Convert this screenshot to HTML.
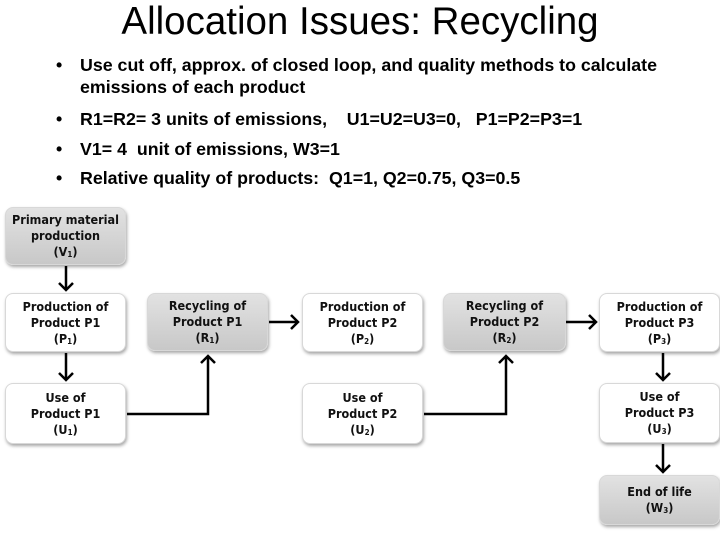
<!DOCTYPE html>
<html><head><style>
body{margin:0;width:720px;height:540px;background:#fff;position:relative;overflow:hidden;font-family:"Liberation Sans",Arial,sans-serif}
.t{position:absolute;left:0;width:720px;top:0px;text-align:center;font-size:38.5px;color:#000}
.b{position:absolute;left:56px;font-size:17.8px;font-weight:bold;color:#000;line-height:22px}
.b span{position:absolute;left:24px;white-space:nowrap}
.n{position:absolute;box-sizing:border-box;border-radius:8px;border:1px solid #d8d8d8;box-shadow:1px 2px 3px rgba(0,0,0,.35);display:flex;align-items:center;justify-content:center;text-align:center;font-family:"DejaVu Sans Condensed","Liberation Sans",sans-serif;font-size:12.5px;line-height:16px;color:#111;font-weight:bold}
.g{background:linear-gradient(#e2e2e2,#c8c8c8)}
.w{background:#fff}
sub{font-size:8px;vertical-align:-1px;line-height:0}
</style></head><body>
<div class="t">Allocation Issues: Recycling</div>
<div class="b" style="top:54px">•<span>Use cut off, approx. of closed loop, and quality methods to calculate<br>emissions of each product</span></div>
<div class="b" style="top:108px">•<span>R1=R2= 3 units of emissions,&nbsp;&nbsp;&nbsp;&nbsp;U1=U2=U3=0,&nbsp;&nbsp; P1=P2=P3=1</span></div>
<div class="b" style="top:138px">•<span>V1= 4&nbsp; unit of emissions, W3=1</span></div>
<div class="b" style="top:167px">•<span>Relative quality of products:&nbsp; Q1=1, Q2=0.75, Q3=0.5</span></div>

<div class="n g" style="left:5px;top:207px;width:121px;height:58px"><div>Primary material<br>production<br>(V<sub>1</sub>)</div></div>
<div class="n w" style="left:5px;top:293px;width:121px;height:59px"><div>Production of<br>Product P1<br>(P<sub>1</sub>)</div></div>
<div class="n g" style="left:147px;top:293px;width:121px;height:58px"><div>Recycling of<br>Product P1<br>(R<sub>1</sub>)</div></div>
<div class="n w" style="left:302px;top:293px;width:121px;height:59px"><div>Production of<br>Product P2<br>(P<sub>2</sub>)</div></div>
<div class="n g" style="left:443px;top:293px;width:123px;height:58px"><div>Recycling of<br>Product P2<br>(R<sub>2</sub>)</div></div>
<div class="n w" style="left:599px;top:293px;width:121px;height:59px"><div>Production of<br>Product P3<br>(P<sub>3</sub>)</div></div>
<div class="n w" style="left:5px;top:383px;width:121px;height:61px"><div>Use of<br>Product P1<br>(U<sub>1</sub>)</div></div>
<div class="n w" style="left:302px;top:383px;width:121px;height:61px"><div>Use of<br>Product P2<br>(U<sub>2</sub>)</div></div>
<div class="n w" style="left:599px;top:383px;width:121px;height:60px"><div>Use of<br>Product P3<br>(U<sub>3</sub>)</div></div>
<div class="n g" style="left:599px;top:475px;width:121px;height:50px"><div>End of life<br>(W<sub>3</sub>)</div></div>

<svg width="720" height="540" style="position:absolute;left:0;top:0" fill="none" stroke="#000" stroke-width="2.5">
<g>
<path d="M66 266V290M59 283l7 7 7-7"/>
<path d="M66 353V380M59 373l7 7 7-7"/>
<path d="M663 353V380M656 373l7 7 7-7"/>
<path d="M663 444V472M656 465l7 7 7-7"/>
<path d="M269 322H298M291 315l7 7-7 7"/>
<path d="M566 322H596M589 315l7 7-7 7"/>
<path d="M127 414H208V356M201 363l7-7 7 7"/>
<path d="M424 414H506V356M499 363l7-7 7 7"/>
</g>
</svg>
</body></html>
